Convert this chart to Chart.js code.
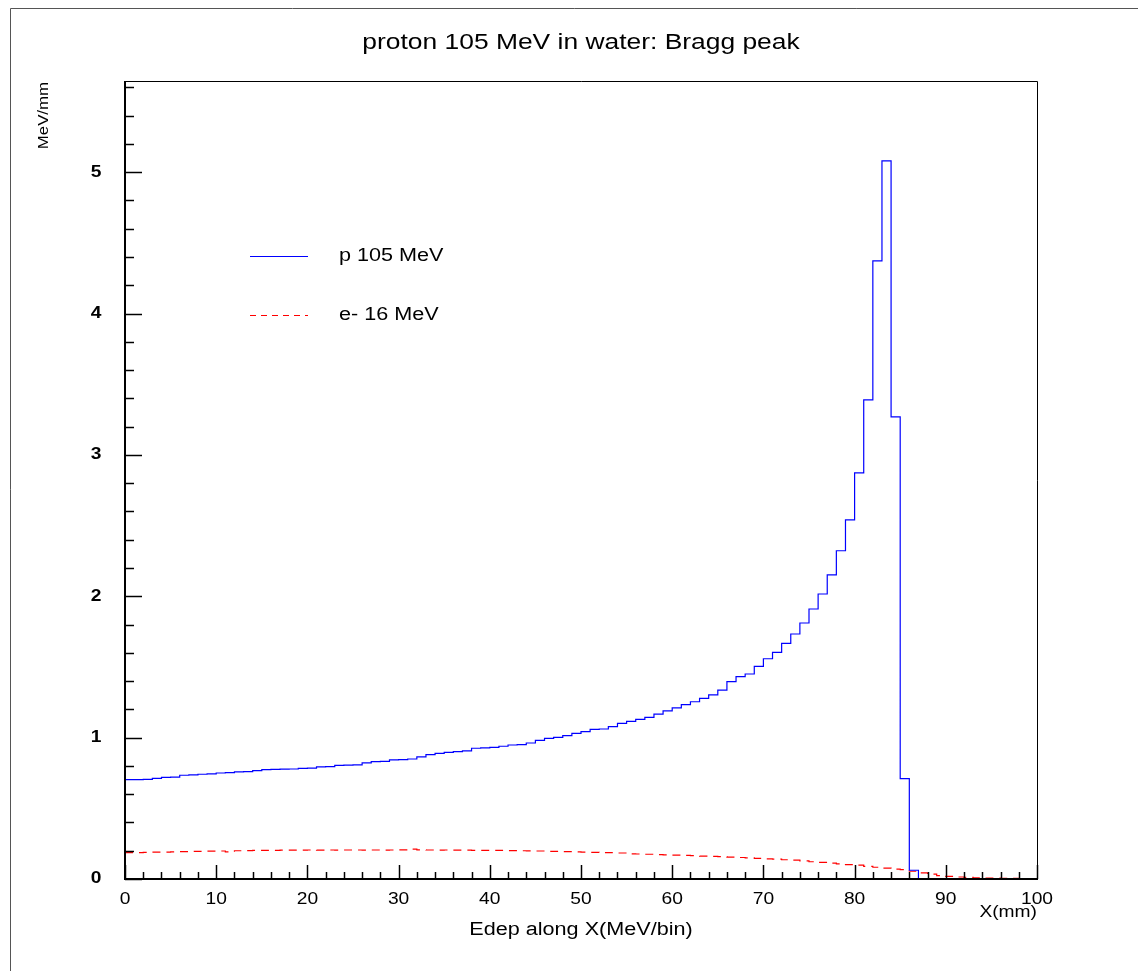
<!DOCTYPE html>
<html>
<head>
<meta charset="utf-8">
<title>proton 105 MeV in water: Bragg peak</title>
<script src="https://cdn.jsdelivr.net/npm/chart.js@4.4.0/dist/chart.umd.min.js"></script>
<style>
  html, body { margin: 0; padding: 0; background: #fff; }
  canvas { display: block; }
</style>
</head>
<body>
<canvas id="myChart" width="1138" height="971"></canvas>
<script>
// energy deposit (MeV/mm) in 1 mm bins, bin 0 .. bin 99
var protonEdep = [
  0.703, 0.703, 0.705, 0.712, 0.719, 0.721, 0.734, 0.736, 0.741, 0.744,
  0.750, 0.752, 0.758, 0.760, 0.767, 0.774, 0.775, 0.777, 0.778, 0.783,
  0.785, 0.793, 0.795, 0.804, 0.806, 0.808, 0.821, 0.830, 0.832, 0.842,
  0.844, 0.849, 0.864, 0.880, 0.889, 0.896, 0.901, 0.906, 0.925, 0.927,
  0.931, 0.939, 0.948, 0.950, 0.962, 0.981, 0.995, 1.002, 1.014, 1.030,
  1.042, 1.059, 1.061, 1.078, 1.101, 1.115, 1.129, 1.143, 1.167, 1.189,
  1.210, 1.233, 1.254, 1.278, 1.302, 1.336, 1.396, 1.431, 1.450, 1.504,
  1.558, 1.603, 1.667, 1.733, 1.811, 1.910, 2.016, 2.152, 2.322, 2.541,
  2.873, 3.389, 4.373, 5.080, 3.269, 0.710, 0.062, 0, 0, 0,
  0, 0, 0, 0, 0, 0, 0, 0, 0, 0
];
var electronEdep = [
  0.186, 0.186, 0.188, 0.190, 0.190, 0.192, 0.193, 0.195, 0.196, 0.197,
  0.198, 0.192, 0.200, 0.201, 0.202, 0.203, 0.203, 0.204, 0.204, 0.204,
  0.205, 0.204, 0.205, 0.204, 0.205, 0.205, 0.204, 0.205, 0.204, 0.205,
  0.206, 0.211, 0.206, 0.205, 0.204, 0.205, 0.204, 0.204, 0.203, 0.203,
  0.203, 0.202, 0.201, 0.200, 0.199, 0.198, 0.196, 0.195, 0.193, 0.192,
  0.190, 0.189, 0.187, 0.186, 0.184, 0.178, 0.177, 0.175, 0.173, 0.171,
  0.169, 0.167, 0.165, 0.162, 0.160, 0.158, 0.155, 0.152, 0.150, 0.146,
  0.143, 0.140, 0.136, 0.133, 0.128, 0.122, 0.117, 0.112, 0.107, 0.101,
  0.098, 0.090, 0.083, 0.077, 0.070, 0.066, 0.055, 0.044, 0.035, 0.024,
  0.018, 0.014, 0.012, 0.009, 0.007, 0.006, 0.005, 0.004, 0.003, 0.003
];
var seriesLabels = ['p 105 MeV', 'e- 16 MeV'];
var seriesColors = ['#0000ff', '#ff0000'];
var xTickLabels = ['0', '10', '20', '30', '40', '50', '60', '70', '80', '90', '100'];
var yTickLabels = ['0', '1', '2', '3', '4', '5'];

var binWidth = 1;
var xMin = 0, xMax = 100;
var yMin = 0, yMax = 5.645;
var xMinorStep = 2, yMinorStep = 0.2;
var SX = 1.2; // text is drawn a bit wide, like the original
var FONT = '"Liberation Sans", Arial, sans-serif';

// histogram bins -> step points (left edge of each bin, plus closing edge)
function toSteps(values) {
  var pts = values.map(function (v, i) { return { x: xMin + i * binWidth, y: v }; });
  pts.push({ x: xMin + values.length * binWidth, y: values[values.length - 1] });
  return pts;
}

function wideText(ctx, text, x, y, size, align, weight, angle) {
  ctx.save();
  ctx.font = (weight || 'normal') + ' ' + size + 'px ' + FONT;
  ctx.fillStyle = '#000';
  ctx.textAlign = align;
  ctx.textBaseline = 'middle';
  ctx.translate(x, y);
  if (angle) ctx.rotate(angle);
  ctx.scale(SX, 1);
  ctx.fillText(text, 0, 0);
  ctx.restore();
}

var rootStyle = {
  id: 'rootStyle',
  afterDraw: function (chart) {
    var ctx = chart.ctx;
    var a = chart.chartArea;
    var xs = chart.scales.x, ys = chart.scales.y;

    ctx.save();
    // outer pad frame
    ctx.strokeStyle = '#555';
    ctx.lineWidth = 1;
    ctx.beginPath();
    ctx.moveTo(10.5, 971);
    ctx.lineTo(10.5, 8.5);
    ctx.lineTo(1138, 8.5);
    ctx.stroke();

    // plot frame
    ctx.strokeStyle = '#000';
    ctx.lineWidth = 1;
    ctx.beginPath();
    ctx.moveTo(a.left, a.top + 0.5);
    ctx.lineTo(a.right + 0.5, a.top + 0.5);
    ctx.lineTo(a.right + 0.5, a.bottom);
    ctx.stroke();
    ctx.lineWidth = 2;
    ctx.beginPath();
    ctx.moveTo(a.left, a.top);
    ctx.lineTo(a.left, a.bottom);
    ctx.lineTo(a.right + 1, a.bottom);
    ctx.stroke();

    // ticks inside the frame
    ctx.lineWidth = 1.5;
    var i, v, p;
    for (i = 0; xMin + i * xMinorStep <= xMax + 1e-9; i++) {
      v = xMin + i * xMinorStep;
      p = Math.round(xs.getPixelForValue(v)) + 0.5;
      var major = (i % 5 === 0);
      ctx.beginPath();
      ctx.moveTo(p, a.bottom);
      ctx.lineTo(p, a.bottom - (major ? 14 : 7));
      ctx.stroke();
    }
    for (i = 0; yMin + i * yMinorStep <= yMax + 1e-9; i++) {
      v = yMin + i * yMinorStep;
      p = Math.round(ys.getPixelForValue(v)) + 0.5;
      var majorY = (i % 5 === 0);
      ctx.beginPath();
      ctx.moveTo(a.left, p);
      ctx.lineTo(a.left + (majorY ? 17 : 9), p);
      ctx.stroke();
    }
    ctx.restore();

    // tick labels
    xTickLabels.forEach(function (t) {
      wideText(ctx, t, xs.getPixelForValue(Number(t)), 900, 16, 'center');
    });
    yTickLabels.forEach(function (t) {
      wideText(ctx, t, 96, ys.getPixelForValue(Number(t)), 16, 'center', 'bold');
    });

    // titles
    wideText(ctx, 'proton 105 MeV in water: Bragg peak', (a.left + a.right) / 2, 43, 22, 'center');
    wideText(ctx, 'Edep along X(MeV/bin)', (a.left + a.right) / 2, 930, 18, 'center');
    wideText(ctx, 'X(mm)', a.right, 913, 16, 'right');
    wideText(ctx, 'MeV/mm', 44, a.top + 1, 14, 'right', 'normal', -Math.PI / 2);

    // legend
    var rows = [256, 315];
    seriesLabels.forEach(function (label, k) {
      ctx.save();
      ctx.strokeStyle = seriesColors[k];
      ctx.lineWidth = 1;
      ctx.setLineDash(k === 0 ? [] : [6, 5]);
      ctx.beginPath();
      ctx.moveTo(250, rows[k] + 0.5);
      ctx.lineTo(308, rows[k] + 0.5);
      ctx.stroke();
      ctx.restore();
      wideText(ctx, label, 339, rows[k], 18, 'left');
    });
  }
};

var ctx = document.getElementById('myChart').getContext('2d');
var myChart = new Chart(ctx, {
  type: 'line',
  data: {
    datasets: [{
      label: seriesLabels[0],
      data: toSteps(protonEdep),
      stepped: 'before',
      borderColor: seriesColors[0],
      borderWidth: 1.2,
      pointRadius: 0,
      fill: false
    }, {
      label: seriesLabels[1],
      data: toSteps(electronEdep),
      stepped: 'before',
      borderColor: seriesColors[1],
      borderWidth: 1.2,
      borderDash: [8, 6],
      pointRadius: 0,
      fill: false
    }]
  },
  options: {
    responsive: false,
    animation: false,
    devicePixelRatio: 1,
    layout: {
      padding: { left: 125, top: 81, right: 101, bottom: 92 }
    },
    plugins: {
      legend: { display: false },
      title: { display: false },
      tooltip: { enabled: false }
    },
    scales: {
      x: { type: 'linear', min: xMin, max: xMax, display: false },
      y: { type: 'linear', min: yMin, max: yMax, display: false }
    }
  },
  plugins: [rootStyle]
});
</script>
</body>
</html>
